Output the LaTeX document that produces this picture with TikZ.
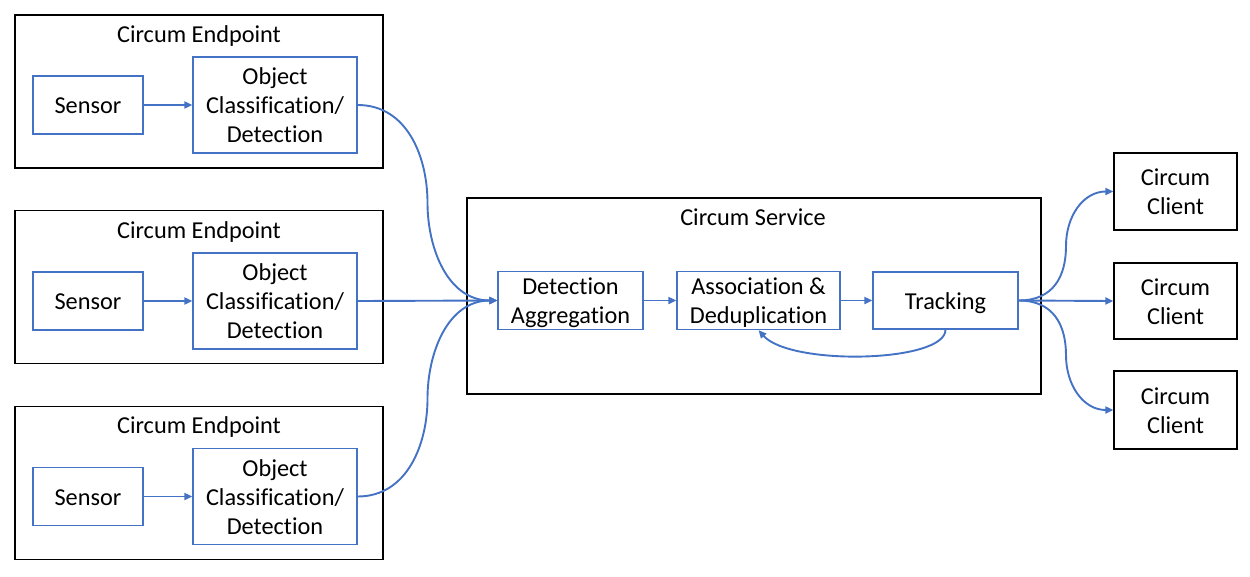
\documentclass[tikz,border=0pt]{standalone}
\usepackage{fontspec}
\setmainfont{Carlito}[Ligatures=NoCommon]
\usetikzlibrary{arrows.meta,calc}
\definecolor{obl}{HTML}{4472C4}
\newcommand\ml[1]{\raisebox{-3pt}[\height][\depth]{\begin{tabular}{@{}c@{}}#1\end{tabular}}}
\begin{document}
\begin{tikzpicture}[x=1pt,y=-1pt,
  outer/.style={draw=black,line width=1.3pt,inner sep=0pt,minimum width=#1},
  inbox/.style={draw=obl,line width=1.3pt,inner sep=0pt},
  lbl/.style={inner sep=0pt},
  conn/.style={draw=obl,line width=1.9pt,-{Triangle[length=8pt,width=7pt]}},
  every node/.append style={font=\fontsize{24.3}{29}\selectfont}]
\useasboundingbox (0,0) rectangle (1250,576);
% endpoints
\foreach \i/\y in {1/91.5,2/287,3/483}{
  \node[outer=368pt,minimum height=153pt] (ep\i) at (199,\y) {};
}
\node[lbl] (t1) at (199,34) {\ml{Circum Endpoint}};
\node[lbl] (t2) at (199,230) {\ml{Circum Endpoint}};
\node[lbl] (t3) at (199,425) {\ml{Circum Endpoint}};
\foreach \i/\y in {1/105,2/301,3/496.5}{
  \node[inbox,minimum width=110pt,minimum height=58pt] (s\i) at (88,\y) {\ml{Sensor}};
  \node[inbox,minimum width=164pt,minimum height=96pt] (o\i) at (275,\y) {\ml{Object\\Classification/\\Detection}};
  \draw[conn] (s\i) -- (o\i);
}
% service
\node[outer=574pt,minimum height=196pt] (svc) at (754,296) {};
\node[lbl] (st) at (753,217) {\ml{Circum Service}};
\node[inbox,minimum width=145pt,minimum height=57pt] (da) at (570.5,300.5) {\ml{Detection\\Aggregation}};
\node[inbox,minimum width=163pt,minimum height=57pt] (as) at (758.5,300.5) {\ml{Association \&\\Deduplication}};
\node[inbox,minimum width=145pt,minimum height=57pt] (tr) at (945.5,300.5) {\ml{Tracking}};
% clients
\node[outer=123pt,minimum height=77pt] (c1) at (1175.5,191.5) {\ml{Circum\\Client}};
\node[outer=123pt,minimum height=76pt] (c2) at (1175.5,301) {\ml{Circum\\Client}};
\node[outer=123pt,minimum height=78pt] (c3) at (1175.5,410) {\ml{Circum\\Client}};
% connectors
\draw[conn] (o1.east) .. controls +(50,0) and +(0,-45) .. ($(o1.east)!.5!(da.west)$) .. controls +(0,45) and +(-50,0) .. (da.west);
\draw[conn] (o2.east) -- (da.west);
\draw[conn] (o3.east) .. controls +(50,0) and +(0,45) .. ($(o3.east)!.5!(da.west)$) .. controls +(0,-45) and +(-50,0) .. (da.west);
\draw[conn] (da) -- (as);
\draw[conn] (as) -- (tr);
\draw[conn] (tr.south) .. controls +(0,33) and +(32,36) .. (as.south);
\draw[conn] (tr.east) .. controls +(35,0) and +(0,30) .. ($(tr.east)!.5!(c1.west)$) .. controls +(0,-30) and +(-30,0) .. (c1.west);
\draw[conn] (tr.east) -- (c2.west);
\draw[conn] (tr.east) .. controls +(35,0) and +(0,-30) .. ($(tr.east)!.5!(c3.west)$) .. controls +(0,30) and +(-30,0) .. (c3.west);
\end{tikzpicture}
\end{document}
